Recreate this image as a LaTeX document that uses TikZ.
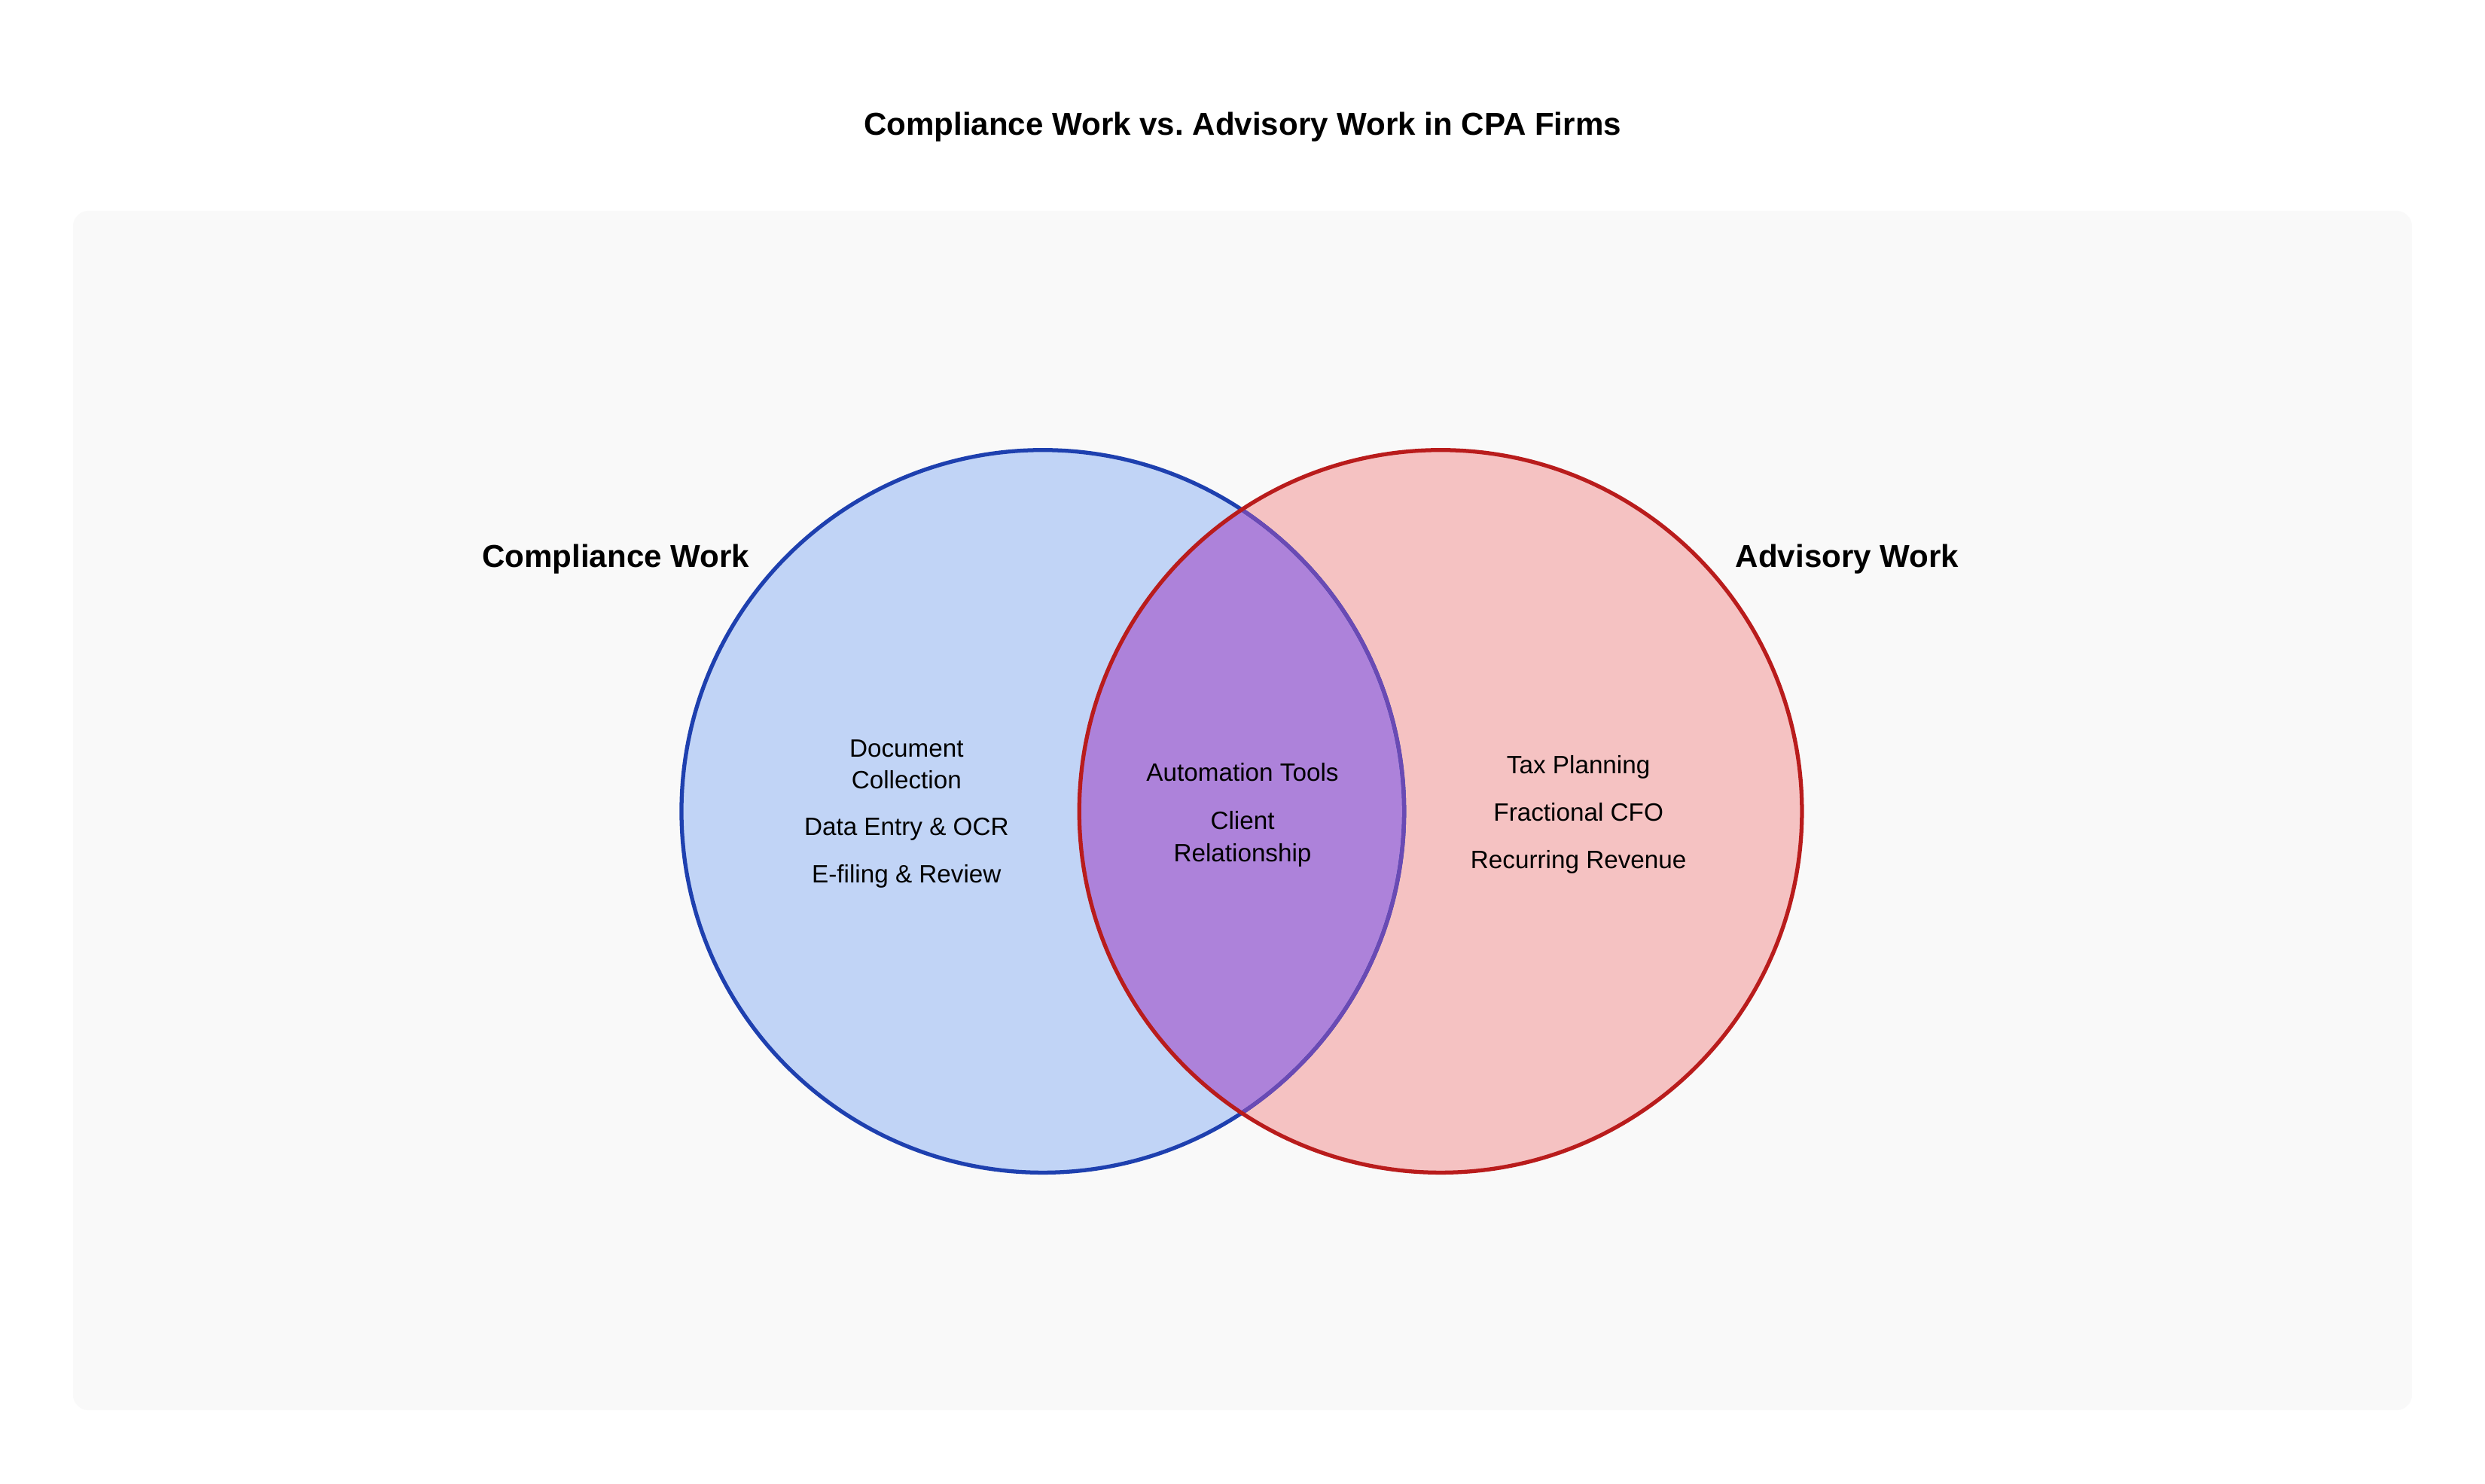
\documentclass[tikz,border=0pt]{standalone}
\usepackage{fontspec}
\setmainfont{Liberation Sans}
\frenchspacing
\definecolor{bgpanel}{HTML}{F9F9F9}
\definecolor{bluefill}{HTML}{C1D4F6}
\definecolor{bluestroke}{HTML}{1E40AF}
\definecolor{redfill}{HTML}{F5C2C2}
\definecolor{redstroke}{HTML}{B91C1C}
\definecolor{lensfill}{HTML}{AD82DA}
\definecolor{lensstroke}{HTML}{6A4AB4}
\begin{document}
\begin{tikzpicture}[x=1pt,y=-1pt,
  setlabel/.style={font=\fontsize{20}{24}\selectfont\bfseries, text height=0.75em, text depth=0.22em},
  titletext/.style={font=\fontsize{20}{24}\selectfont\bfseries, text height=0.75em, text depth=0.22em},
  itemtext/.style={font=\fontsize{15.8}{20}\selectfont, align=center},
  oneline/.style={itemtext, text height=0.75em, text depth=0.22em}]
\useasboundingbox (0,0) rectangle (1568,936.5);
\fill[white] (0,0) rectangle (1568,936.5);
\fill[bgpanel, rounded corners=10pt] (46,133) rectangle (1522,890);
% circles
\coordinate (cl) at (658,512);
\coordinate (cr) at (909,512);
\fill[bluefill] (cl) circle[radius=228];
\fill[redfill] (cr) circle[radius=228];
\begin{scope}
  \clip (cl) circle[radius=228];
  \fill[lensfill] (cr) circle[radius=228];
\end{scope}
\draw[bluestroke, line width=2.5pt] (cl) circle[radius=228];
\begin{scope}
  \clip (cr) circle[radius=228];
  \draw[lensstroke, line width=2.5pt] (cl) circle[radius=228];
\end{scope}
\draw[redstroke, line width=2.5pt] (cr) circle[radius=228];
% texts
\node[titletext] (title) at (784,82.5) {Compliance Work vs. Advisory Work in CPA Firms};
\node[setlabel] (lblc) at (388.5,355.5) {Compliance Work};
\node[setlabel] (lbla) at (1165.5,355.5) {Advisory Work};
\node[itemtext] (doc) at (572,482.5) {Document\\Collection};
\node[oneline] (data) at (572,524.5) {Data Entry \& OCR};
\node[oneline] (efile) at (572,554.5) {E-filing \& Review};
\node[oneline] (auto) at (784,490.5) {Automation Tools};
\node[itemtext] (client) at (784,529.5) {Client\\Relationship};
\node[oneline] (tax) at (996,485.5) {Tax Planning};
\node[oneline] (cfo) at (996,515.5) {Fractional CFO};
\node[oneline] (rev) at (996,545.5) {Recurring Revenue};
\end{tikzpicture}
\end{document}
